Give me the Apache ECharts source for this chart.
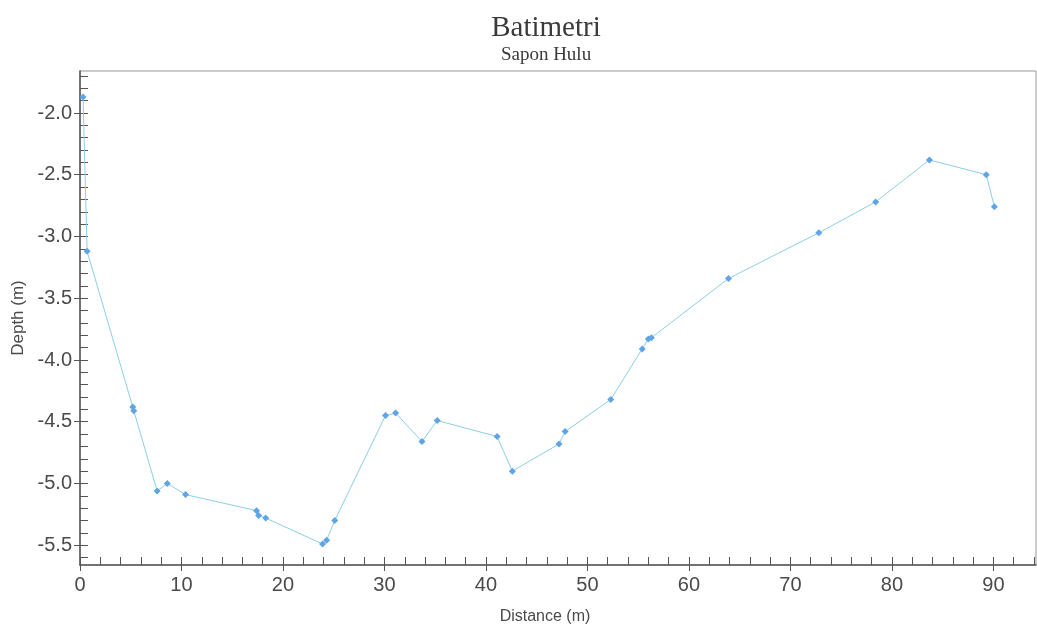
<!DOCTYPE html>
<html>
<head>
<meta charset="utf-8">
<script src="https://cdn.jsdelivr.net/npm/echarts@6/dist/echarts.min.js"></script>
<style>
  html, body { margin: 0; padding: 0; background: #fff; }
  #batimetri { width: 1037px; height: 630px; }
</style>
</head>
<body>
<div id="batimetri"></div>
<script>
var distance = [0.3, 0.7, 5.2, 5.3, 7.6, 8.6, 10.4, 17.4, 17.6, 18.3, 23.9, 24.3, 25.1,
    30.1, 31.1, 33.7, 35.2, 41.1, 42.6, 47.2, 47.8, 52.3, 55.4, 56.0, 56.3,
    63.9, 72.8, 78.4, 83.7, 89.3, 90.1];
var depth = [-1.87, -3.12, -4.38, -4.41, -5.06, -5.0, -5.09, -5.22, -5.26, -5.28, -5.49, -5.46, -5.30,
    -4.45, -4.43, -4.66, -4.49, -4.62, -4.90, -4.68, -4.58, -4.32, -3.91, -3.83, -3.82,
    -3.34, -2.97, -2.72, -2.38, -2.50, -2.76];

var xMajorTicks = [0, 10, 20, 30, 40, 50, 60, 70, 80, 90];
var xMinorTicks = [];
for (var i = 0; i <= 94; i += 2) xMinorTicks.push(i);
var yMajorTicks = [-5.5, -5.0, -4.5, -4.0, -3.5, -3.0, -2.5, -2.0];
var yMinorTicks = [];
for (var j = -56; j <= -17; j++) yMinorTicks.push(j / 10);

var points = distance.map(function (d, k) { return [d, depth[k]]; });

var chartDom = document.getElementById('batimetri');
var myChart = echarts.init(chartDom);

var axisColor = '#555';
var labelFont = { color: '#4a4a4a', fontFamily: 'Liberation Sans, Arial, sans-serif', fontSize: 20 };

var option = {
    animation: false,
    backgroundColor: '#fff',
    title: {
        text: 'Batimetri',
        subtext: 'Sapon Hulu',
        left: 541,
        top: 9,
        textAlign: 'center',
        itemGap: 3,
        textStyle: { fontFamily: 'Liberation Serif, Times New Roman, serif', fontSize: 29, fontWeight: 'normal', color: '#3a3a3a' },
        subtextStyle: { fontFamily: 'Liberation Serif, Times New Roman, serif', fontSize: 19, color: '#3a3a3a' }
    },
    grid: {
        left: 80,
        right: 1,
        top: 71,
        bottom: 64,
        show: true,
        borderColor: '#999',
        borderWidth: 1
    },
    xAxis: [
        {
            type: 'value',
            position: 'bottom',
            min: 0,
            max: 94.2,
            name: 'Distance (m)',
            nameLocation: 'middle',
            nameGap: 44,
            nameTextStyle: { color: '#4a4a4a', fontFamily: 'Liberation Sans, Arial, sans-serif', fontSize: 16, padding: [0, 26, 0, 0] },
            axisLine: { onZero: false, lineStyle: { color: axisColor, width: 1.5 } },
            axisTick: { customValues: xMajorTicks, length: 6, lineStyle: { color: axisColor } },
            axisLabel: Object.assign({ customValues: xMajorTicks, margin: 10 }, labelFont),
            splitLine: { show: false }
        },
        {
            type: 'value',
            position: 'bottom',
            min: 0,
            max: 94.2,
            axisLine: { show: false, onZero: false },
            axisTick: { customValues: xMinorTicks, inside: true, length: 8, lineStyle: { color: axisColor } },
            axisLabel: { show: false },
            splitLine: { show: false }
        }
    ],
    yAxis: [
        {
            type: 'value',
            position: 'left',
            min: -5.66,
            max: -1.66,
            name: 'Depth (m)',
            nameLocation: 'middle',
            nameGap: 53,
            nameTextStyle: { color: '#4a4a4a', fontFamily: 'Liberation Sans, Arial, sans-serif', fontSize: 17 },
            axisLine: { show: true, onZero: false, lineStyle: { color: axisColor, width: 1.5 } },
            axisTick: { show: true, customValues: yMajorTicks, length: 6, lineStyle: { color: axisColor } },
            axisLabel: Object.assign({
                customValues: yMajorTicks,
                margin: 8,
                formatter: function (v) { return v.toFixed(1); }
            }, labelFont),
            splitLine: { show: false }
        },
        {
            type: 'value',
            position: 'left',
            min: -5.66,
            max: -1.66,
            axisLine: { show: false, onZero: false },
            axisTick: { show: true, customValues: yMinorTicks, inside: true, length: 8, lineStyle: { color: axisColor } },
            axisLabel: { show: false },
            splitLine: { show: false }
        }
    ],
    series: [
        {
            name: 'Depth',
            type: 'line',
            data: points,
            symbol: 'diamond',
            symbolSize: 7,
            itemStyle: { color: '#5ea4e6' },
            lineStyle: { color: '#8ccfe8', width: 1 }
        }
    ]
};

myChart.setOption(option);
</script>
</body>
</html>
